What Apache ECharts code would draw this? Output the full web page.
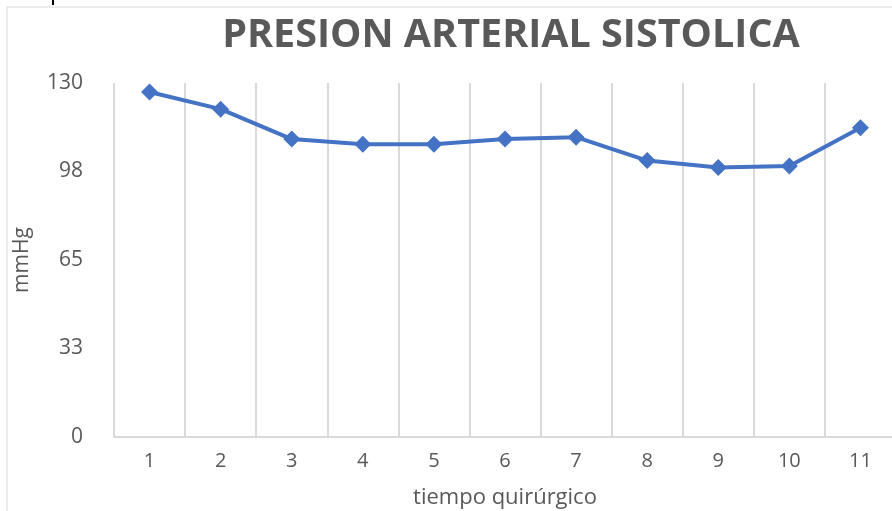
<!DOCTYPE html>
<html>
<head>
<meta charset="utf-8">
<script src="https://cdn.jsdelivr.net/npm/echarts@6/dist/echarts.min.js"></script>
<style>
  html, body { margin: 0; padding: 0; background: #fff; }
  #chart { width: 892px; height: 511px; }
</style>
</head>
<body>
<div id="chart"></div>
<script>
// Systolic blood pressure over surgical time
const categories = ['1', '2', '3', '4', '5', '6', '7', '8', '9', '10', '11'];
const systolic = [126.7, 120.4, 109.4, 107.5, 107.5, 109.4, 110.1, 101.5, 99.0, 99.5, 113.6];
const yTicks = [0, 33, 65, 98, 130];

const chart = echarts.init(document.getElementById('chart'), null, { renderer: 'canvas' });
const textColor = '#595959';
const font = '"Open Sans", sans-serif';

chart.setOption({
  backgroundColor: '#ffffff',
  animation: false,
  title: {
    text: 'PRESION ARTERIAL SISTOLICA',
    left: 506,
    top: 11,
    textAlign: 'center',
    textStyle: { color: textColor, fontSize: 39.5, fontWeight: 'bold', fontFamily: font }
  },
  grid: { left: 114, top: 83, width: 782, height: 354, outerBoundsMode: 'none', containLabel: false },
  xAxis: {
    type: 'category',
    data: categories,
    boundaryGap: true,
    name: 'tiempo quirúrgico',
    nameLocation: 'middle',
    nameGap: 50,
    nameTextStyle: { color: textColor, fontSize: 22, fontFamily: font },
    axisLine: { show: true, lineStyle: { color: '#D9D9D9', width: 2 } },
    axisTick: { show: false },
    axisLabel: { color: textColor, fontSize: 20, fontFamily: font, margin: 14 },
    splitLine: { show: true, lineStyle: { color: '#D9D9D9', width: 2 } }
  },
  yAxis: {
    type: 'value',
    min: 0,
    max: 130,
    interval: 32.5,
    name: 'mmHg',
    nameLocation: 'middle',
    nameGap: 81,
    nameRotate: 90,
    nameTextStyle: { color: textColor, fontSize: 21, fontFamily: font },
    axisLine: { show: false },
    axisTick: { show: false },
    splitLine: { show: false },
    axisLabel: {
      color: textColor, fontSize: 21, fontFamily: font, margin: 31,
      formatter: function (v) { return String(yTicks[Math.round(v / 32.5)]); }
    }
  },
  series: [{
    type: 'line',
    data: systolic,
    symbol: 'diamond',
    symbolSize: 17,
    lineStyle: { color: '#4472C4', width: 4 },
    itemStyle: { color: '#4472C4' }
  }],
  graphic: [
    { type: 'line', shape: { x1: 7, y1: 7, x2: 892, y2: 7 }, style: { stroke: '#D9D9D9', lineWidth: 1 } },
    { type: 'line', shape: { x1: 7, y1: 7, x2: 7, y2: 511 }, style: { stroke: '#D9D9D9', lineWidth: 1 } },
    { type: 'rect', shape: { x: 52, y: 0, width: 2, height: 5 }, style: { fill: '#000' } }
  ]
});
</script>
</body>
</html>
